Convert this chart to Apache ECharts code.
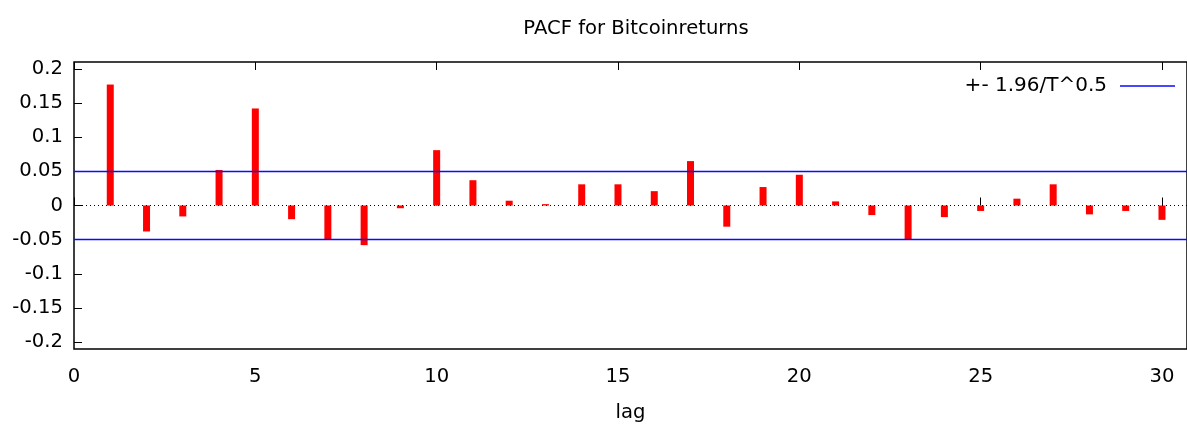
<!DOCTYPE html>
<html>
<head>
<meta charset="utf-8">
<title>PACF for Bitcoinreturns</title>
<script src="https://cdn.jsdelivr.net/npm/echarts@6/dist/echarts.min.js"></script>
<style>
  html, body { margin: 0; padding: 0; background: #ffffff; }
  #chart { width: 1187px; height: 424px; }
</style>
</head>
<body>
<div id="chart"></div>
<script>
  // lags and partial autocorrelations
  var lags = [1, 2, 3, 4, 5, 6, 7, 8, 9, 10, 11, 12, 13, 14, 15, 16, 17, 18, 19, 20, 21, 22, 23, 24, 25, 26, 27, 28, 29, 30]
  var pacf = [0.177, -0.038, -0.016, 0.052, 0.142, -0.020, -0.050, -0.058, -0.004, 0.081,
              0.037, 0.007, 0.002, 0.031, 0.031, 0.021, 0.065, -0.031, 0.027, 0.045,
              0.006, -0.014, -0.050, -0.017, -0.008, 0.010, 0.031, -0.013, -0.008, -0.021]
  var band = 0.0462
  var xTicks = [0, 5, 10, 15, 20, 25, 30]
  var yTicks = [-0.2, -0.15, -0.1, -0.05, 0, 0.05, 0.1, 0.15, 0.2]
  var bandName = '+- 1.96/T^0.5'

  var font = 'DejaVu Sans'
  var fontSize = 19.6
  var chart = echarts.init(document.getElementById('chart'))

  var barData = lags.map(function (l, i) { return [l, pacf[i]] })

  var option = {
    animation: false,
    textStyle: { fontFamily: font },
    title: {
      text: 'PACF for Bitcoinreturns',
      left: 631,
      textAlign: 'center',
      top: 14,
      textStyle: { fontFamily: font, fontSize: fontSize, fontWeight: 'normal', color: '#000' }
    },
    legend: {
      data: [{ name: bandName, icon: 'rect' }],
      right: 7,
      top: 71,
      align: 'right',
      itemWidth: 55,
      itemHeight: 1.5,
      textStyle: { fontFamily: font, fontSize: 20, color: '#000', padding: [0, 8, 0, 0] }
    },
    grid: {
      left: 74,
      right: 0,
      top: 62,
      bottom: 75,
      // keep the plot box fixed, labels may sit near the edge
      outerBoundsMode: 'none',
      show: true,
      borderColor: '#000',
      borderWidth: 1.5
    },
    xAxis: [
      {
        type: 'value',
        min: 0,
        max: 30.69,
        name: 'lag',
        nameLocation: 'middle',
        nameGap: 54,
        nameTextStyle: { fontFamily: font, fontSize: fontSize, color: '#000' },
        axisLine: { show: false },
        splitLine: { show: false },
        axisTick: { inside: true, length: 8, customValues: xTicks, lineStyle: { color: '#000' } },
        axisLabel: { customValues: xTicks, margin: 18, fontFamily: font, fontSize: fontSize, color: '#000' }
      },
      {
        // mirror ticks on the top border
        type: 'value',
        position: 'top',
        min: 0,
        max: 30.69,
        axisLine: { show: false },
        splitLine: { show: false },
        axisTick: { inside: true, length: 8, customValues: xTicks, lineStyle: { color: '#000' } },
        axisLabel: { show: false }
      }
    ],
    yAxis: {
      type: 'value',
      min: -0.21,
      max: 0.21,
      axisLine: { show: false },
      splitLine: { show: false },
      axisTick: { inside: true, length: 8, customValues: yTicks, lineStyle: { color: '#000' } },
      axisLabel: { customValues: yTicks, margin: 11, fontFamily: font, fontSize: fontSize, color: '#000' }
    },
    series: [
      {
        name: 'pacf',
        type: 'bar',
        data: barData,
        barWidth: 7,
        itemStyle: { color: '#ff0000' },
        markLine: {
          silent: true,
          symbol: 'none',
          label: { show: false },
          lineStyle: { color: '#000', type: [1, 3], width: 1 },
          data: [{ yAxis: 0 }]
        },
        z: 3
      },
      {
        name: bandName,
        type: 'line',
        data: [],
        color: '#0a0aff',
        markLine: {
          silent: true,
          symbol: 'none',
          label: { show: false },
          lineStyle: { color: '#0a0aff', type: 'solid', width: 1.3 },
          data: [{ yAxis: band }, { yAxis: -band }]
        }
      }
    ]
  }
  chart.setOption(option)
</script>
</body>
</html>
